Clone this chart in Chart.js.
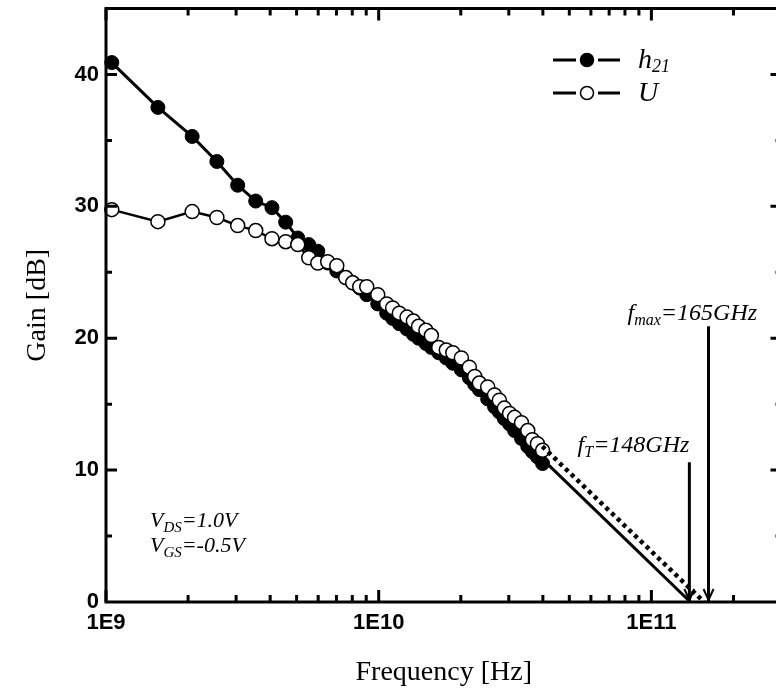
<!DOCTYPE html>
<html>
<head>
<meta charset="utf-8">
<script src="https://cdn.jsdelivr.net/npm/chart.js@4.4.1/dist/chart.umd.min.js"></script>
<style>
  html, body { margin: 0; padding: 0; background: #fff; overflow: hidden; }
  #wrap { width: 776px; height: 697px; overflow: hidden; }
  canvas { display: block; }
</style>
</head>
<body>
<div id="wrap"><canvas id="gainChart" width="790" height="697"></canvas></div>
<script>
// Frequencies in GHz, gains in dB
const freqH21 = [1.05, 1.55, 2.07, 2.55, 3.04, 3.54, 4.06, 4.56, 5.05, 5.54,
  5.98, 6.50, 7.02, 7.57, 8.03, 8.52, 9.04, 9.92, 10.7, 11.25,
  11.9, 12.7, 13.4, 14.0, 14.9, 15.6, 16.6, 17.7, 18.7, 20.1,
  21.5, 22.5, 23.4, 25.1, 26.6, 27.7, 28.9, 30.2, 31.5, 33.4,
  35.2, 36.6, 38.2, 39.9];
const gainH21 = [40.9, 37.5, 35.3, 33.4, 31.6, 30.4, 29.9, 28.8, 27.6, 27.1,
  26.6, 25.7, 25.1, 24.6, 24.2, 23.8, 23.3, 22.6, 21.9, 21.5,
  21.1, 20.7, 20.3, 20.0, 19.6, 19.3, 18.9, 18.5, 18.1, 17.6,
  17.0, 16.5, 16.1, 15.4, 14.8, 14.4, 13.9, 13.5, 13.0, 12.4,
  11.8, 11.4, 11.0, 10.5];

const freqU = [1.05, 1.55, 2.07, 2.55, 3.04, 3.54, 4.06, 4.56, 5.05, 5.54,
  5.98, 6.50, 7.02, 7.57, 8.03, 8.52, 9.04, 9.92, 10.7, 11.25,
  11.9, 12.7, 13.4, 14.0, 14.9, 15.6, 16.6, 17.7, 18.7, 20.1,
  21.5, 22.5, 23.4, 25.1, 26.6, 27.7, 28.9, 30.2, 31.5, 33.4,
  35.2, 36.6, 38.2, 39.9];
const gainU = [29.75, 28.84, 29.6, 29.15, 28.54, 28.16, 27.55, 27.32, 27.1, 26.1,
  25.7, 25.8, 25.5, 24.6, 24.2, 23.9, 23.9, 23.3, 22.6, 22.3,
  21.9, 21.6, 21.3, 20.9, 20.6, 20.2, 19.3, 19.1, 18.9, 18.5,
  17.8, 17.1, 16.6, 16.3, 15.7, 15.3, 14.7, 14.3, 14.0, 13.6,
  13.0, 12.3, 12.0, 11.5];

// -20 dB/dec extrapolations
const fitFreqT = [41.2, 139];
const fitGainT = [10.55, 0];
const fitFreqMax = [39.8, 156];
const fitGainMax = [11.8, 0];

// marker arrows (GHz, dB top -> bottom)
const arrowFreqT = 137.8;
const arrowGainT = [10.6, 0];
const arrowFreqMax = 162;
const arrowGainMax = [20.9, 0];

const xTicks = [1e9, 1e10, 1e11];
const xTickLabels = ["1E9", "1E10", "1E11"];
const yTicks = [0, 10, 20, 30, 40];

const toPoints = (freqs, gains) => freqs.map((f, i) => ({ x: f * 1e9, y: gains[i] }));

const serif = '"Liberation Serif", "Times New Roman", serif';
const sans = '"Liberation Sans", Arial, sans-serif';

// Draw italic text with subscripts; parts = [text, size, dy]
function richWidth(ctx, parts) {
  let w = 0;
  for (const [t, size] of parts) {
    ctx.font = `italic ${size}px ${serif}`;
    w += ctx.measureText(t).width;
  }
  return w;
}
function drawRich(ctx, x, y, parts) {
  for (const [t, size, dy] of parts) {
    ctx.font = `italic ${size}px ${serif}`;
    ctx.fillText(t, x, y + dy);
    x += ctx.measureText(t).width;
  }
}

const decorations = {
  id: "decorations",
  afterDatasetsDraw(chart) {
    const { ctx, chartArea: a, scales: { x, y } } = chart;
    ctx.save();
    ctx.strokeStyle = "#000";
    ctx.fillStyle = "#000";
    ctx.lineWidth = 3;

    // frame
    ctx.strokeRect(a.left, a.top, a.right - a.left, a.bottom - a.top);

    // inward ticks
    ctx.beginPath();
    for (let dec = 9; dec <= 11; dec++) {
      for (let m = 1; m <= 9; m++) {
        const v = m * 10 ** dec;
        if (v > x.max) break;
        const px = x.getPixelForValue(v);
        const len = m === 1 ? 12 : 7;
        ctx.moveTo(px, a.bottom); ctx.lineTo(px, a.bottom - len);
        ctx.moveTo(px, a.top); ctx.lineTo(px, a.top + len);
      }
    }
    for (let v = 5; v < y.max; v += 5) {
      const py = y.getPixelForValue(v);
      const len = v % 10 === 0 ? 11 : 6;
      ctx.moveTo(a.left, py); ctx.lineTo(a.left + len, py);
      ctx.moveTo(a.right, py); ctx.lineTo(a.right - len, py);
    }
    ctx.stroke();

    // arrow heads
    ctx.lineWidth = 2;
    [[arrowFreqT, arrowGainT[1]], [arrowFreqMax, arrowGainMax[1]]].forEach(([f, g]) => {
      const px = x.getPixelForValue(f * 1e9);
      const py = y.getPixelForValue(g) - 2;
      ctx.beginPath();
      ctx.moveTo(px - 5, py - 11);
      ctx.lineTo(px, py);
      ctx.lineTo(px + 5, py - 11);
      ctx.stroke();
    });

    // legend
    const ds = chart.data.datasets;
    [[60, ds[0], "h", "21"], [93, ds[1], "U", ""]].forEach(([ly, d, main, sub]) => {
      ctx.lineWidth = 3;
      ctx.beginPath();
      ctx.moveTo(553, ly); ctx.lineTo(576, ly);
      ctx.moveTo(598, ly); ctx.lineTo(620, ly);
      ctx.stroke();
      ctx.beginPath();
      ctx.arc(587, ly, 6.5, 0, Math.PI * 2);
      ctx.fillStyle = d.pointBackgroundColor;
      ctx.fill();
      ctx.lineWidth = 1.5;
      ctx.stroke();
      ctx.fillStyle = "#000";
      ctx.textBaseline = "alphabetic";
      drawRich(ctx, 638, ly + 8, [[main, 28, 0], [sub, 18, 4]]);
    });

    // annotations
    ctx.textBaseline = "alphabetic";
    const ftParts = [["f", 24, 0], ["T", 16, 5], ["=148GHz", 24, 0]];
    const ftX = x.getPixelForValue(arrowFreqT * 1e9);
    drawRich(ctx, ftX - richWidth(ctx, ftParts), 452, ftParts);

    const fmParts = [["f", 24, 0], ["max", 16, 5], ["=165GHz", 24, 0]];
    const fmX = x.getPixelForValue(arrowFreqMax * 1e9);
    drawRich(ctx, fmX - 81, 320, fmParts);

    drawRich(ctx, a.left + 44, 527, [["V", 22, 0], ["DS", 15, 5], ["=1.0V", 22, 0]]);
    drawRich(ctx, a.left + 44, 552, [["V", 22, 0], ["GS", 15, 5], ["=-0.5V", 22, 0]]);

    ctx.restore();
  }
};

const tickFont = { family: sans, size: 22, weight: "bold" };
const titleFont = { family: serif, size: 28 };

new Chart(document.getElementById("gainChart"), {
  type: "line",
  data: {
    datasets: [
      {
        label: "h21",
        data: toPoints(freqH21, gainH21),
        borderColor: "#000",
        borderWidth: 3,
        pointRadius: 7,
        pointBackgroundColor: "#000",
        pointBorderColor: "#000",
        pointBorderWidth: 1,
        clip: false,
        order: 4,
      },
      {
        label: "U",
        data: toPoints(freqU, gainU),
        borderColor: "#000",
        borderWidth: 2.5,
        pointRadius: 7,
        pointBackgroundColor: "#fff",
        pointBorderColor: "#000",
        pointBorderWidth: 1.5,
        clip: false,
        order: 3,
      },
      {
        label: "fT fit",
        data: toPoints(fitFreqT, fitGainT),
        borderColor: "#000",
        borderWidth: 3,
        pointRadius: 0,
        order: 2,
      },
      {
        label: "fmax fit",
        data: toPoints(fitFreqMax, fitGainMax),
        borderColor: "#000",
        borderWidth: 4.5,
        borderDash: [4, 4],
        pointRadius: 0,
        order: 2,
      },
      {
        label: "fT arrow",
        data: toPoints([arrowFreqT, arrowFreqT], arrowGainT),
        borderColor: "#000",
        borderWidth: 3,
        pointRadius: 0,
        order: 1,
      },
      {
        label: "fmax arrow",
        data: toPoints([arrowFreqMax, arrowFreqMax], arrowGainMax),
        borderColor: "#000",
        borderWidth: 3,
        pointRadius: 0,
        order: 1,
      },
    ],
  },
  options: {
    responsive: false,
    animation: false,
    devicePixelRatio: 1,
    layout: { padding: { top: 8, right: 8, left: 0, bottom: 0 } },
    plugins: { legend: { display: false }, tooltip: { enabled: false } },
    elements: { line: { tension: 0 } },
    scales: {
      x: {
        type: "logarithmic",
        min: 1e9,
        max: 3e11,
        grid: { display: false, drawTicks: false },
        border: { display: false },
        afterBuildTicks: (scale) => { scale.ticks = xTicks.map((v) => ({ value: v })); },
        afterFit: (scale) => {
          scale.height = 95;
          scale.paddingLeft = 0;
          scale.paddingRight = 0;
        },
        ticks: {
          autoSkip: false,
          maxRotation: 0,
          minRotation: 0,
          padding: 8,
          color: "#000",
          font: tickFont,
          callback: (v) => xTickLabels[xTicks.indexOf(v)] ?? "",
        },
        title: {
          display: true,
          text: "Frequency [Hz]",
          color: "#000",
          font: titleFont,
          padding: { top: 0, bottom: 8 },
        },
      },
      y: {
        type: "linear",
        min: 0,
        max: 45,
        grid: { display: false, drawTicks: false },
        border: { display: false },
        afterBuildTicks: (scale) => { scale.ticks = yTicks.map((v) => ({ value: v })); },
        afterFit: (scale) => {
          scale.width = 106;
          scale.paddingTop = 0;
          scale.paddingBottom = 0;
        },
        ticks: {
          padding: 7,
          color: "#000",
          font: tickFont,
        },
        title: {
          display: true,
          text: "Gain [dB]",
          color: "#000",
          font: titleFont,
          padding: { top: 21, bottom: 0 },
        },
      },
    },
  },
  plugins: [decorations],
});
</script>
</body>
</html>
